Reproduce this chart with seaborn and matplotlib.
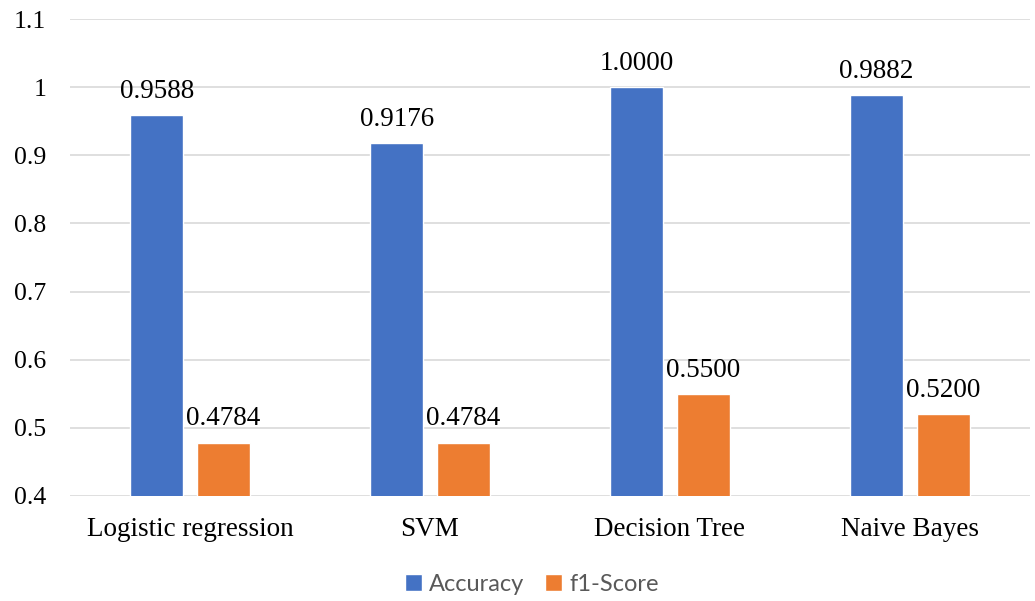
import matplotlib
matplotlib.use("Agg")
import matplotlib.pyplot as plt
import seaborn as sns
import pandas as pd

models = ["Logistic regression", "SVM", "Decision Tree", "Naive Bayes"]
accuracy = [0.9588, 0.9176, 1.0000, 0.9882]
f1_score = [0.4784, 0.4784, 0.5500, 0.5200]
metrics = ["Accuracy", "f1-Score"]
y_ticks = [0.4, 0.5, 0.6, 0.7, 0.8, 0.9, 1.0, 1.1]
y_tick_labels = ["0.4", "0.5", "0.6", "0.7", "0.8", "0.9", "1", "1.1"]

df = pd.DataFrame({
    "Model": models * 2,
    "Metric": [metrics[0]] * len(models) + [metrics[1]] * len(models),
    "Score": accuracy + f1_score,
})

sns.set_theme(style="white")
plt.rcParams["font.family"] = ["Liberation Serif", "DejaVu Serif"]

fig = plt.figure(figsize=(10.35, 6.01), dpi=100)
ax = fig.add_axes([70 / 1035, 1 - 496 / 601, 960 / 1035, 477 / 601])

palette = {"Accuracy": "#4472C4", "f1-Score": "#ED7D31"}
sns.barplot(data=df, x="Model", y="Score", hue="Metric", order=models,
            hue_order=metrics, palette=palette, width=0.556, gap=0.21,
            saturation=1, ax=ax, legend=True, zorder=3)

ax.set_ylim(0.4, 1.1)
ax.set_xlim(-0.5, len(models) - 0.5)
ax.set_yticks(y_ticks)
ax.set_yticklabels(y_tick_labels, fontfamily="Liberation Serif")
ax.yaxis.grid(True, color="#d9d9d9", linewidth=1.2, zorder=0)
ax.set_axisbelow(True)
for s in ax.spines.values():
    s.set_visible(False)
ax.set_xlabel("")
ax.set_ylabel("")
ax.tick_params(axis="y", labelsize=18.5, pad=17, length=0, colors="black")
ax.tick_params(axis="x", labelsize=19.5, pad=15, length=0, colors="black")
for t in ax.get_xticklabels():
    t.set_fontfamily("Liberation Serif")

for cont in ax.containers:
    labels = [f"{v:.4f}" for v in cont.datavalues]
    ax.bar_label(cont, labels=labels, padding=8, fontsize=19.5,
                 color="black", fontfamily="Liberation Serif")

leg = ax.legend(loc="upper center", bbox_to_anchor=(0.481, -0.118), ncol=2,
                frameon=False, handlelength=0.75, handleheight=0.75,
                handletextpad=0.3, columnspacing=0.85,
                prop={"family": "Lato", "size": 17})
for t in leg.get_texts():
    t.set_color("#595959")

fig.savefig("out.png", dpi=100)
